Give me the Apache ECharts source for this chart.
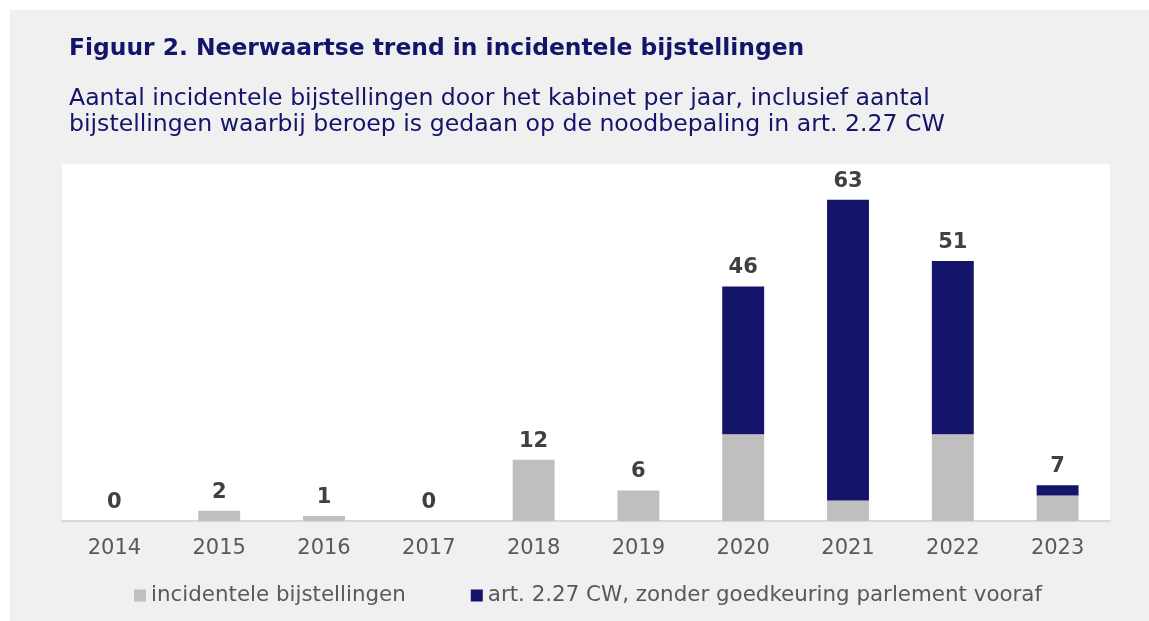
<!DOCTYPE html>
<html>
<head>
<meta charset="utf-8">
<script src="https://cdn.jsdelivr.net/npm/echarts@6/dist/echarts.min.js"></script>
<style>
  html, body { margin: 0; padding: 0; background: #ffffff; }
  #panel { position: absolute; left: 10px; top: 10px; width: 1139px; height: 611px; background: #f0f0f0; }
  #main { position: absolute; left: 0; top: 0; width: 1149px; height: 621px; }
</style>
</head>
<body>
<div id="panel"></div>
<div id="main"></div>
<script>
const years = ["2014", "2015", "2016", "2017", "2018", "2019", "2020", "2021", "2022", "2023"];
const incidenteel = [0, 2, 1, 0, 12, 6, 17, 4, 17, 5];
const art227 = [0, 0, 0, 0, 0, 0, 29, 59, 34, 2];
const seriesNames = [
  "incidentele bijstellingen",
  "art. 2.27 CW, zonder goedkeuring parlement vooraf",
];

const chartDom = document.getElementById("main");
const myChart = echarts.init(chartDom, null, { renderer: "canvas" });
const fontFamily = "'DejaVu Sans', Verdana, sans-serif";
const navy = "#14146a";

const option = {
  backgroundColor: "transparent",
  animation: false,
  title: [
    {
      text: "Figuur 2. Neerwaartse trend in incidentele bijstellingen",
      left: 64,
      top: 32,
      textStyle: {
        fontFamily: fontFamily,
        fontSize: 23.4,
        fontWeight: "bold",
        color: navy,
      },
    },
    {
      text:
        "Aantal incidentele bijstellingen door het kabinet per jaar, inclusief aantal\nbijstellingen waarbij beroep is gedaan op de noodbepaling in art. 2.27 CW",
      left: 64,
      top: 81,
      textStyle: {
        fontFamily: fontFamily,
        fontSize: 23.6,
        fontWeight: "normal",
        lineHeight: 26,
        color: navy,
      },
    },
  ],
  legend: {
    data: seriesNames,
    left: 129,
    top: 580,
    icon: "rect",
    itemWidth: 12,
    itemHeight: 12,
    itemGap: 65,
    textStyle: {
      fontFamily: fontFamily,
      fontSize: 21.4,
      color: "#595959",
    },
  },
  grid: {
    left: 62,
    right: 39,
    top: 164,
    height: 357,
    show: true,
    backgroundColor: "#ffffff",
    borderWidth: 0,
  },
  xAxis: {
    type: "category",
    data: years,
    axisLine: { lineStyle: { color: "#d9d9d9", width: 2 } },
    axisTick: { show: false },
    axisLabel: {
      fontFamily: fontFamily,
      fontSize: 21,
      color: "#595959",
      margin: 17,
    },
  },
  yAxis: {
    type: "value",
    min: 0,
    max: 70,
    show: false,
    splitLine: { show: false },
  },
  series: [
    {
      name: seriesNames[0],
      type: "bar",
      stack: "totaal",
      data: incidenteel,
      barWidth: "40%",
      itemStyle: { color: "#bfbfbf" },
    },
    {
      name: seriesNames[1],
      type: "bar",
      stack: "totaal",
      data: art227,
      barWidth: "40%",
      itemStyle: { color: navy },
      label: {
        show: true,
        position: "top",
        distance: 8,
        fontFamily: fontFamily,
        fontSize: 21,
        fontWeight: "bold",
        color: "#404040",
        formatter: (params) => {
          return incidenteel[params.dataIndex] + art227[params.dataIndex];
        },
      },
    },
  ],
};

myChart.setOption(option);
</script>
</body>
</html>
